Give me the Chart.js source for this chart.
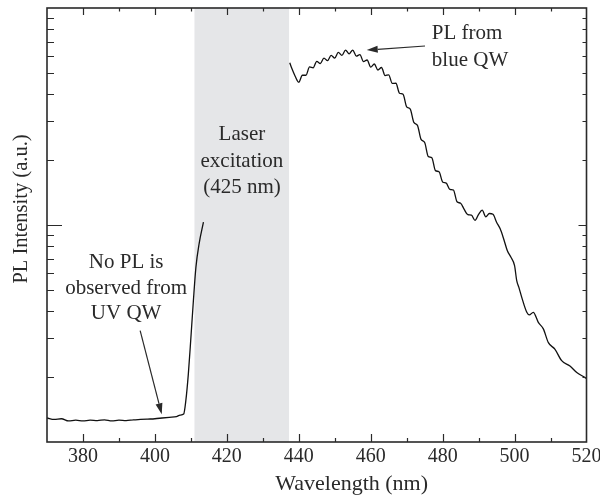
<!DOCTYPE html>
<html>
<head>
<meta charset="utf-8">
<script src="https://cdn.jsdelivr.net/npm/chart.js@4/dist/chart.umd.min.js"></script>
<style>
  body { margin: 0; background: #fff; }
  canvas { display: block; }
</style>
</head>
<body>
<canvas id="chart" width="600" height="499"></canvas>
<script>
// UV side: flat background, then the laser edge rising
const uvWavelength = [370, 372, 374, 376, 378, 380, 382, 384, 386, 388, 390, 392, 394, 396, 398,
  400, 402, 404, 406, 407, 408, 408.6, 409.3, 409.95, 410.7, 411.4, 412.3, 413.5];
const uvIntensity = [1.29, 1.27, 1.28, 1.25, 1.26, 1.25, 1.26, 1.255, 1.265, 1.25, 1.26, 1.255, 1.265, 1.27, 1.275,
  1.28, 1.29, 1.30, 1.31, 1.33, 1.345, 1.55, 2.06, 2.93, 4.48, 6.38, 8.21, 10.3];

// blue QW emission after the laser band
const blueWavelength = [437.5, 438, 439, 440, 441, 442, 443, 444, 445, 446, 447, 448, 449, 450,
  451, 452, 453, 454, 455, 456, 457, 458, 459, 460, 461, 462, 463, 464, 465, 466, 467, 468, 469,
  470, 471, 472, 473, 474, 475, 476, 477, 478, 479, 480, 481, 482, 483, 484, 485, 486, 487, 488,
  489, 490, 491, 492, 493, 494, 495, 496, 497, 498, 499, 500, 500.6, 501.2, 502, 503.4, 504.1,
  505.2, 506.6, 508, 509.4, 511.2, 513.1, 515.4, 517.3, 519.6, 520];
const blueIntensity = [55.9, 53, 48.5, 45.5, 49, 49, 53.5, 53, 56.8, 55.5, 58.8, 57.2, 60.5, 58.8,
  62.5, 60.5, 64, 61.5, 64, 60, 61, 56.6, 57.6, 53.4, 55.2, 51.8, 53.2, 48.8, 49.2, 44.9, 45, 40.5, 40,
  35, 34.2, 29.7, 28.8, 24.8, 24, 20.7, 20.4, 17.8, 17.6, 15.8, 15.6, 14.6, 14.5, 12.8, 12.6, 11.8, 11.15, 11.1,
  10.5, 11.2, 11.7, 10.9, 11.3, 11.2, 10.3, 9.6, 8.6, 7.6, 7.1, 6.5, 5.54, 5.16, 4.64, 3.96, 3.85,
  3.96, 3.56, 3.32, 2.87, 2.68, 2.37, 2.24, 2.09, 1.98, 1.96];

const xTickValues = [380, 400, 420, 440, 460, 480, 500, 520];
const laserBand = [411, 437.3];

const FONT = '"Liberation Serif", "Times New Roman", serif';
const INK = '#2a2a2a';

// text blocks and arrows, in data units
const notes = [
  { x: 424.2, lines: ['Laser', 'excitation', '(425 nm)'], y: [26.2, 19.65, 14.9], align: 'center' },
  { x: 477.0, lines: ['PL from', 'blue QW'], y: [76.6, 57.5], align: 'left' },
  { x: 392.0, lines: ['No PL is', 'observed from', 'UV QW'], y: [6.71, 5.09, 3.90], align: 'center' }
];
const arrows = [
  { from: [475.1, 66.8], to: [458.9, 64.0] },
  { from: [395.9, 3.26], to: [401.9, 1.343] }
];

function toXY(xs, ys) {
  return xs.map((x, i) => ({ x: x, y: ys[i] }));
}

const decor = {
  id: 'decor',
  beforeDatasetsDraw(chart) {
    const { ctx, chartArea: a, scales: { x } } = chart;
    ctx.save();
    ctx.fillStyle = '#e5e6e8';
    const x0 = x.getPixelForValue(laserBand[0]);
    const x1 = x.getPixelForValue(laserBand[1]);
    ctx.fillRect(x0, a.top, x1 - x0, a.bottom - a.top);
    ctx.restore();
  },
  afterDraw(chart) {
    const { ctx, chartArea: a, scales: { x, y } } = chart;
    ctx.save();
    ctx.strokeStyle = INK;
    ctx.lineWidth = 1.6;
    ctx.strokeRect(a.left, a.top, a.right - a.left, a.bottom - a.top);

    // inward ticks, x
    ctx.lineWidth = 1.2;
    ctx.beginPath();
    for (let v = 380; v < 520; v += 10) {
      const px = Math.round(x.getPixelForValue(v)) + 0.5;
      const major = v % 20 === 0;
      ctx.moveTo(px, a.bottom); ctx.lineTo(px, a.bottom - (major ? 8 : 4));
      ctx.moveTo(px, a.top); ctx.lineTo(px, a.top + (major ? 7 : 3.5));
    }
    // inward ticks, y (log)
    [1, 10].forEach(d => {
      for (let m = 1; m <= 9; m++) {
        const v = d * m;
        if (v === 1) continue;
        const py = Math.round(y.getPixelForValue(v)) + 0.5;
        const major = m === 1;
        ctx.moveTo(a.left, py); ctx.lineTo(a.left + (major ? 15 : 7), py);
        ctx.moveTo(a.right, py); ctx.lineTo(a.right - (major ? 8 : 4), py);
      }
    });
    ctx.stroke();

    // notes
    ctx.fillStyle = INK;
    ctx.font = '21px ' + FONT;
    ctx.textBaseline = 'middle';
    notes.forEach(n => {
      ctx.textAlign = n.align;
      n.lines.forEach((t, i) => {
        ctx.fillText(t, x.getPixelForValue(n.x), y.getPixelForValue(n.y[i]));
      });
    });

    // arrows
    arrows.forEach(ar => {
      const fx = x.getPixelForValue(ar.from[0]), fy = y.getPixelForValue(ar.from[1]);
      const tx = x.getPixelForValue(ar.to[0]), ty = y.getPixelForValue(ar.to[1]);
      const ang = Math.atan2(ty - fy, tx - fx);
      const len = 11, half = 3.5;
      const bx = tx - len * Math.cos(ang), by = ty - len * Math.sin(ang);
      ctx.strokeStyle = INK;
      ctx.lineWidth = 1.2;
      ctx.beginPath();
      ctx.moveTo(fx, fy); ctx.lineTo(bx, by);
      ctx.stroke();
      ctx.beginPath();
      ctx.moveTo(tx, ty);
      ctx.lineTo(bx + half * Math.sin(ang), by - half * Math.cos(ang));
      ctx.lineTo(bx - half * Math.sin(ang), by + half * Math.cos(ang));
      ctx.closePath();
      ctx.fill();
    });

    // x title
    ctx.textAlign = 'center';
    ctx.font = '22px ' + FONT;
    ctx.fillText('Wavelength (nm)', x.getPixelForValue(454.7), a.bottom + 42);

    // y title
    ctx.translate(22, 209);
    ctx.rotate(-Math.PI / 2);
    ctx.font = '20.5px ' + FONT;
    ctx.fillText('PL Intensity (a.u.)', 0, 0);
    ctx.restore();
  }
};

const lineStyle = {
  borderColor: '#111',
  borderWidth: 1.3,
  pointRadius: 0,
  fill: false,
  cubicInterpolationMode: 'monotone'
};

new Chart(document.getElementById('chart'), {
  type: 'line',
  data: {
    datasets: [
      { ...lineStyle, label: 'UV', data: toXY(uvWavelength, uvIntensity) },
      { ...lineStyle, label: 'Blue', data: toXY(blueWavelength, blueIntensity) }
    ]
  },
  options: {
    responsive: false,
    animation: false,
    layout: { padding: { left: 47, right: 13.5, top: 8, bottom: 27 } },
    plugins: { legend: { display: false }, tooltip: { enabled: false } },
    scales: {
      x: {
        type: 'linear',
        min: 370,
        max: 520,
        afterBuildTicks: s => { s.ticks = xTickValues.map(v => ({ value: v })); },
        afterFit: s => { s.paddingLeft = 0; s.paddingRight = 0; },
        grid: { display: false, drawTicks: false },
        border: { display: false },
        ticks: { color: INK, font: { family: FONT, size: 20 }, padding: 3, maxRotation: 0, autoSkip: false },
        title: { display: false }
      },
      y: {
        type: 'logarithmic',
        display: false,
        min: 1,
        max: 100
      }
    }
  },
  plugins: [decor]
});
</script>
</body>
</html>
